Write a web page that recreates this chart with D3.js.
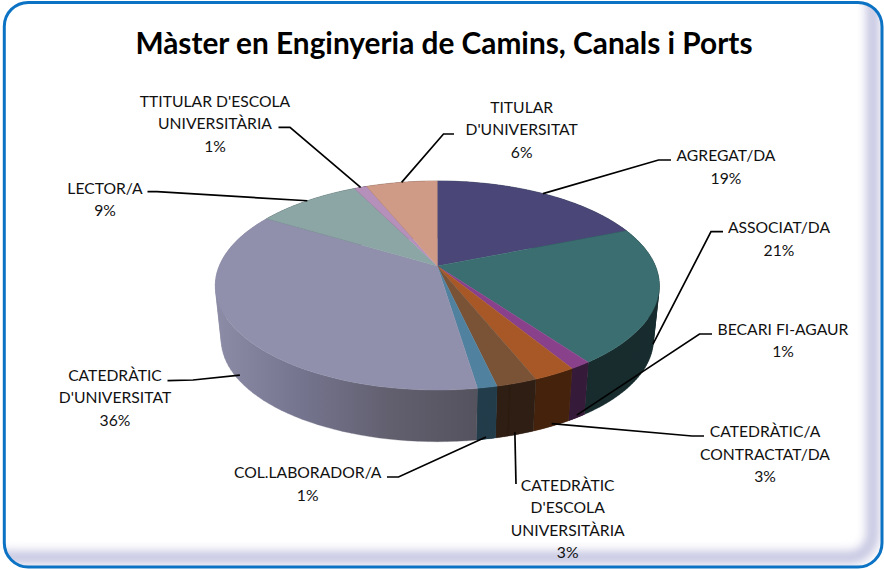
<!DOCTYPE html>
<html><head><meta charset="utf-8">
<script src="https://cdn.jsdelivr.net/npm/d3@7/dist/d3.min.js"></script>
<style>html,body{margin:0;padding:0;background:#fff}svg{display:block}text{font-family:Lato,"Open Sans",sans-serif}</style>
</head><body><svg id="c" width="884" height="569"></svg>
<script>
// ---- data
const titleText = "Màster en Enginyeria de Camins, Canals i Ports";
const categories = ["AGREGAT/DA","ASSOCIAT/DA","BECARI FI-AGAUR","CATEDRÀTIC/A CONTRACTAT/DA","CATEDRÀTIC D'ESCOLA UNIVERSITÀRIA","COL.LABORADOR/A","CATEDRÀTIC D'UNIVERSITAT","LECTOR/A","TTITULAR D'ESCOLA UNIVERSITÀRIA","TITULAR D'UNIVERSITAT"];
const values = [18.9,21.1,1.3,2.6,2.5,1.2,36.0,9.1,1.1,6.2];
const wrappedNames = [["AGREGAT/DA"],["ASSOCIAT/DA"],["BECARI FI-AGAUR"],["CATEDRÀTIC/A","CONTRACTAT/DA"],["CATEDRÀTIC","D'ESCOLA","UNIVERSITÀRIA"],["COL.LABORADOR/A"],["CATEDRÀTIC","D'UNIVERSITAT"],["LECTOR/A"],["TTITULAR D'ESCOLA","UNIVERSITÀRIA"],["TITULAR","D'UNIVERSITAT"]];

// ---- styling and layout
const topColors = ["#4a4778","#3a6e70","#8a418c","#a85826","#7a5235","#50819f","#9090ac","#8ca5a5","#b590bb","#cf9a86"];
const sideColors = ["#1b2f31","#182c2e","#371a3a","#45220c","#2f2013","#233c4c","url(#sideGrad)","#3d4c4c","#4f3f52","#5c4339"];
const labelCenters = [[726,155.2],[779,227.2],[783,328.5],[765,431],[567.7,484.5],[307.7,472],[115,374.5],[105,187.5],[215,100.5],[521.7,106.5]];
const leaderStarts = [[[671,160],[658.5,160]],[[723,231.7],[711,231.7]],[[712,334],[699.5,334]],[[704,436],[692,436]],[[516,484]],[[387,477],[398.5,477]],[[167.5,380.7],[193,380]],[[147.5,191.7],[157,191.7]],[[278.5,127.3],[290,127.3]],[[454,134],[443.5,134]]];
const leaderDepth = [0,0.9,0.95,0.95,0.95,0.96,0.87,0,0,0];
const lineGap = 22.6;
const cx = 437.3, cy = 266, ax = 218.1, by = 100.9, persp = 0.1866, depthY = 55, depthScale = 0.027;

const svg = d3.select("#c");
const defs = svg.append("defs");
const borderRect = {x:4.3,y:2.4,width:877.7,height:564.6,rx:24,ry:24};
const clip = defs.append("clipPath").attr("id","frame").append("rect");
Object.entries(borderRect).forEach(([k,v])=>clip.attr(k,v));
defs.append("filter").attr("id","blur").attr("x","-5%").attr("y","-5%").attr("width","110%").attr("height","110%")
  .append("feGaussianBlur").attr("stdDeviation",5);
const g = defs.append("linearGradient").attr("id","sideGrad").attr("gradientUnits","userSpaceOnUse")
  .attr("x1",220).attr("x2",480).attr("y1",0).attr("y2",0);
[[0,"#8b8ba5"],[0.3,"#757590"],[0.65,"#62606f"],[1,"#54525d"]].forEach(([o,c])=>g.append("stop").attr("offset",o).attr("stop-color",c));

// frame
svg.append("rect").attr("width",884).attr("height",569).attr("fill","#fff");
const sh = svg.append("g").attr("clip-path","url(#frame)").append("rect");
Object.entries(borderRect).forEach(([k,v])=>sh.attr(k,v));
sh.attr("x",-16).attr("y",-18).attr("width",borderRect.width+11).attr("height",borderRect.height+11)
  .attr("fill","none").attr("stroke","#c6c6e2").attr("stroke-width",13).attr("filter","url(#blur)");
const bd = svg.append("rect");
Object.entries(borderRect).forEach(([k,v])=>bd.attr(k,v));
bd.attr("fill","none").attr("stroke","#0b72c4").attr("stroke-width",3);

// projection of a point on the pie disc: t = 0 top face, t = 1 bottom face
function project(theta, r, t){
  const u = r*Math.sin(theta), v = r*Math.cos(theta), w = 1 + persp*v, s = 1 - depthScale*t;
  return [cx + s*ax*u/w, cy + depthY*t - s*by*v/w];
}
const pie = d3.pie().sort(null).startAngle(0).endAngle(2*Math.PI).value(d=>d);
const arcs = pie(values);
const color = d3.scaleOrdinal().domain(categories).range(topColors);
const sideColor = d3.scaleOrdinal().domain(categories).range(sideColors);
const line = d3.line();
const samples = a => d3.range(0,61).map(i=>a.startAngle+(a.endAngle-a.startAngle)*i/60);
// side wall as small quads wound the same way, so folds at the silhouette do not cancel out
function sidePath(a){
  const s = samples(a);
  return d3.pairs(s).map(([p,q])=>{
    const quad = [project(p,1,0),project(q,1,0),project(q,1,1),project(p,1,1)];
    if (d3.polygonArea(quad) < 0) quad.reverse();
    return line(quad)+"Z";
  }).join("");
}

const pieG = svg.append("g");
// side wall (drawn first; the top face covers the far half)
pieG.selectAll("path.side").data(arcs).join("path").attr("class","side")
  .attr("d",sidePath)
  .attr("fill",(a,i)=>sideColor(categories[i])).attr("stroke",(a,i)=>sideColor(categories[i])).attr("stroke-width",0.3);
// top face
pieG.selectAll("path.top").data(arcs).join("path").attr("class","top")
  .attr("d",a=>line([project(0,0,0)].concat(samples(a).map(t=>project(t,1,0))))+"Z")
  .attr("fill",(a,i)=>color(categories[i])).attr("stroke",(a,i)=>color(categories[i])).attr("stroke-width",0.4);

// leader lines
svg.append("g").selectAll("path").data(arcs).join("path")
  .attr("d",(a,i)=>line(leaderStarts[i].concat([project((a.startAngle+a.endAngle)/2,1,leaderDepth[i])])))
  .attr("fill","none").attr("stroke","#000").attr("stroke-width",1.7);

// labels
const lab = svg.append("g").selectAll("g").data(arcs).join("g");
lab.each(function(a,i){
  const lines = wrappedNames[i].concat([Math.round(a.data)+"%"]);
  d3.select(this).selectAll("text").data(lines).join("text")
    .attr("x",labelCenters[i][0]).attr("y",(d,k)=>labelCenters[i][1]+k*lineGap)
    .attr("text-anchor","middle").attr("dominant-baseline","central")
    .attr("font-size",15.7).attr("fill","#111").text(d=>d);
});

svg.append("text").attr("x",444).attr("y",42.5).attr("text-anchor","middle").attr("dominant-baseline","central")
  .attr("font-size",29.8).attr("font-weight",700).attr("fill","#000").text(titleText);
</script></body></html>
